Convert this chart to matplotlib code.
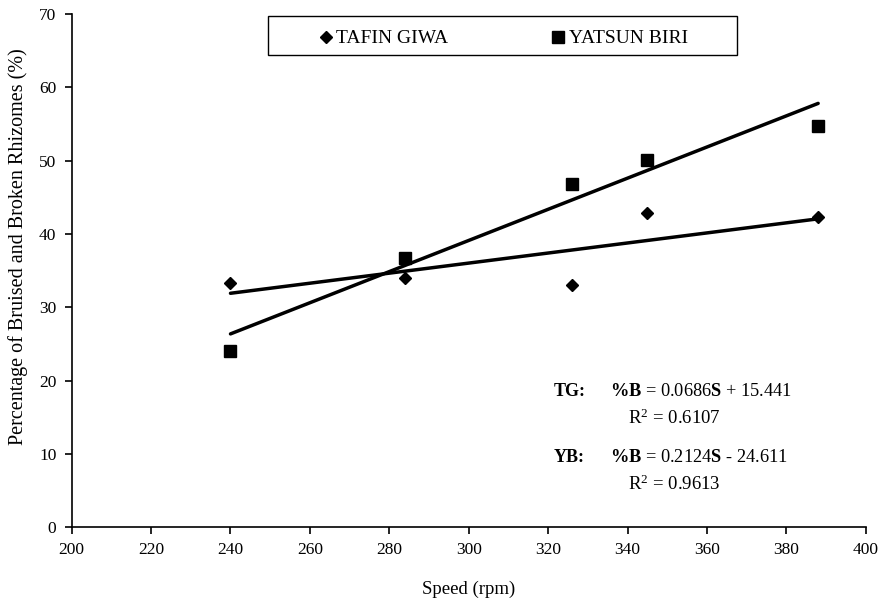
"""Bruised and broken rhizomes vs. speed for two ginger varieties."""
import matplotlib
matplotlib.use("Agg")
import matplotlib.pyplot as plt
from matplotlib.patches import Rectangle
import numpy as np

# data
speed = [240, 284, 326, 345, 388]
tafin_giwa = [33.3, 34.0, 33.0, 42.8, 42.3]
yatsun_biri = [24.0, 36.7, 46.8, 50.1, 54.7]

# trendline coefficients as printed on the chart
tg_fit = (0.0686, 15.441)
yb_fit = (0.2124, -24.611)

plt.rcParams["font.family"] = ["Liberation Serif", "DejaVu Serif"]
plt.rcParams["mathtext.fontset"] = "custom"
plt.rcParams["mathtext.rm"] = "Liberation Serif"
plt.rcParams["mathtext.it"] = "Liberation Serif:italic"
plt.rcParams["mathtext.bf"] = "Liberation Serif:bold"
plt.rcParams["font.size"] = 12.5

fig = plt.figure(figsize=(8.88, 6.06), dpi=100)
ax = fig.add_axes([0.0807, 0.130, 0.8943, 0.847])

ax.plot(speed, tafin_giwa, linestyle="none", marker="D", markersize=6.5,
        color="black", label="TAFIN GIWA")
ax.plot(speed, yatsun_biri, linestyle="none", marker="s", markersize=8,
        color="black", label="YATSUN BIRI")

xs = np.array([min(speed), max(speed)])
for m, c in (tg_fit, yb_fit):
    ax.plot(xs, m * xs + c, color="black", linewidth=2.5, solid_capstyle="round")

ax.set_xlim(200, 400)
ax.set_ylim(0, 70)
ax.set_xticks(range(200, 401, 20))
ax.set_yticks(range(0, 71, 10))
ax.spines["top"].set_visible(False)
ax.spines["right"].set_visible(False)
for s in ("left", "bottom"):
    ax.spines[s].set_linewidth(1.2)
ax.tick_params(direction="out", length=5, width=1.2, pad=6, labelsize=12.5)

ax.set_xlabel("Speed (rpm)", fontsize=13.5, labelpad=16)
ax.set_ylabel("Percentage of Bruised and Broken Rhizomes (%)", fontsize=14.5)
# the original label sits a little above the middle of the axis
ax.yaxis.set_label_coords(-0.055, 0.546)

# legend box drawn separately so the frame can be wider than its contents
ax.add_patch(Rectangle((0.247, 0.920), 0.591, 0.076, transform=ax.transAxes,
                       facecolor="white", edgecolor="black", linewidth=1.0,
                       clip_on=False, zorder=4))
leg = ax.legend(loc="center", bbox_to_anchor=(0.5425, 0.952), ncol=2,
                frameon=False, handletextpad=0.1, handlelength=0.9,
                columnspacing=5.2, fontsize=14)
leg.set_zorder(5)

# regression equations
ax.text(0.607, 0.265, "TG:", transform=ax.transAxes, fontweight="bold",
        va="center", ha="left", fontsize=13)
ax.text(0.678, 0.265, r"$\mathbf{\%B}$ = 0.0686$\mathbf{S}$ + 15.441",
        transform=ax.transAxes, va="center", ha="left", fontsize=13.2)
ax.text(0.700, 0.213, r"R$^2$ = 0.6107", transform=ax.transAxes,
        va="center", ha="left", fontsize=13.5)
ax.text(0.607, 0.135, "YB:", transform=ax.transAxes, fontweight="bold",
        va="center", ha="left", fontsize=13)
ax.text(0.678, 0.135, r"$\mathbf{\%B}$ = 0.2124$\mathbf{S}$ - 24.611",
        transform=ax.transAxes, va="center", ha="left", fontsize=13.2)
ax.text(0.700, 0.083, r"R$^2$ = 0.9613", transform=ax.transAxes,
        va="center", ha="left", fontsize=13.5)

fig.savefig("out.png", dpi=100)
plt.close(fig)
